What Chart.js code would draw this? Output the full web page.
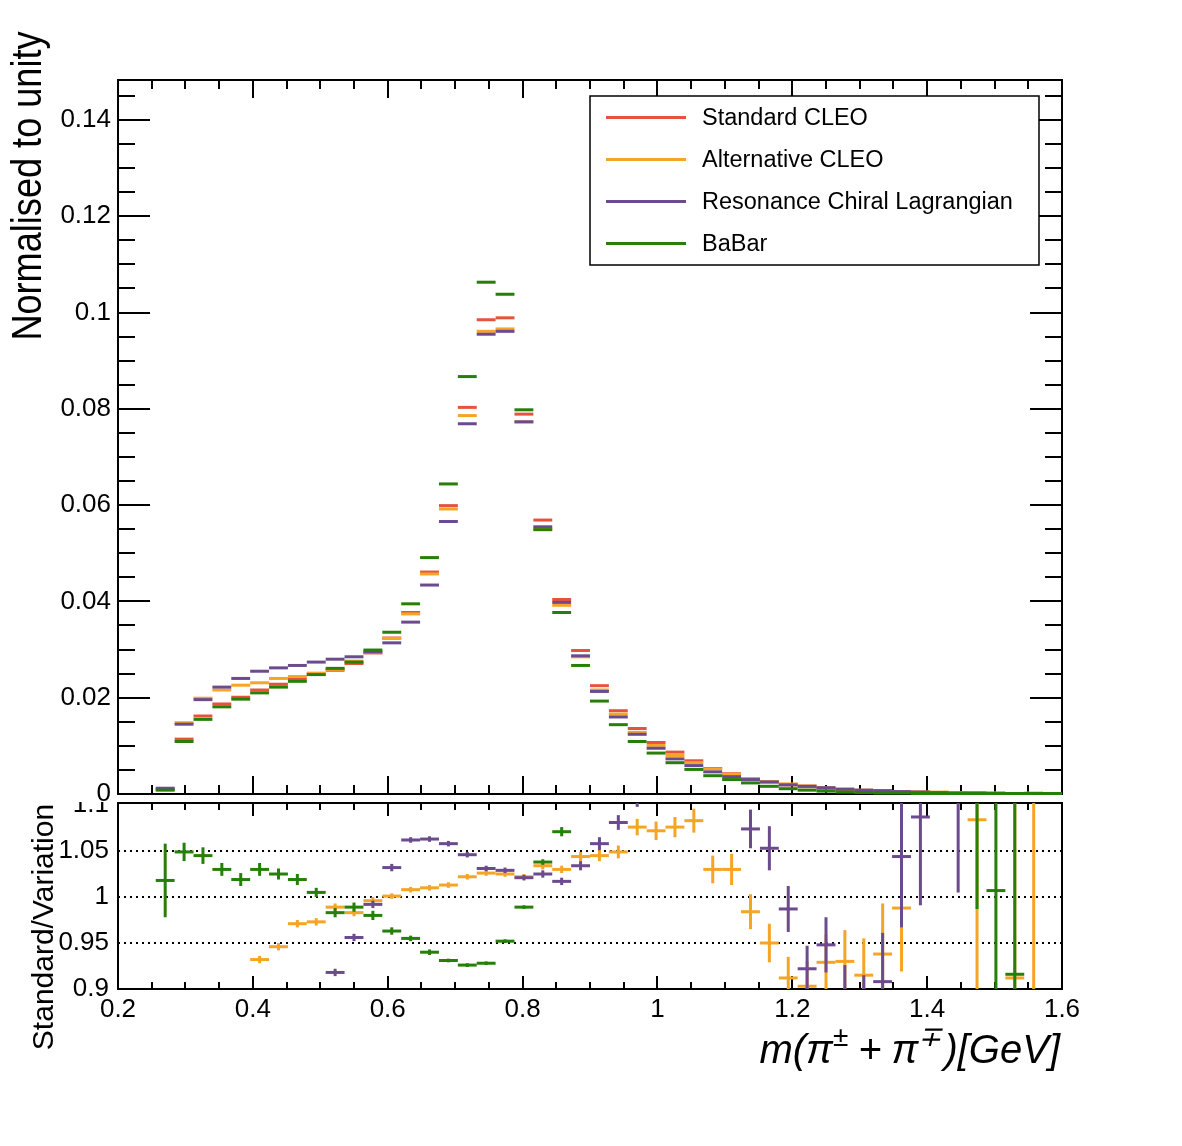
<!DOCTYPE html>
<html>
<head>
<meta charset="utf-8">
<script src="https://cdn.jsdelivr.net/npm/chart.js@4.4.1/dist/chart.umd.min.js"></script>
<style>
  html, body { margin: 0; padding: 0; background: #fff; }
  #wrap { position: relative; width: 1182px; height: 1146px; overflow: hidden; background: #fff; }
  canvas { position: absolute; left: 0; }
  #mainCanvas { top: 0; }
  #ratioCanvas { top: 802px; }
</style>
</head>
<body>
<div id="wrap">
  <canvas id="mainCanvas" width="1182" height="802"></canvas>
  <canvas id="ratioCanvas" width="1182" height="344"></canvas>
</div>
<script>
// m(pi pi) bin centres, bins of 0.028 GeV from 0.2 to 1.6
const massBins = [
  0.214, 0.242, 0.270, 0.298, 0.326, 0.354, 0.382, 0.410, 0.438, 0.466,
  0.494, 0.522, 0.550, 0.578, 0.606, 0.634, 0.662, 0.690, 0.718, 0.746,
  0.774, 0.802, 0.830, 0.858, 0.886, 0.914, 0.942, 0.970, 0.998, 1.026,
  1.054, 1.082, 1.110, 1.138, 1.166, 1.194, 1.222, 1.250, 1.278, 1.306,
  1.334, 1.362, 1.390, 1.418, 1.446, 1.474, 1.502, 1.530, 1.558, 1.586
];
const binWidth = 0.028;

const seriesNames = ['Standard CLEO', 'Alternative CLEO', 'Resonance Chiral Lagrangian', 'BaBar'];
const seriesColors = ['#e6533c', '#f5a526', '#6b4b8d', '#267f08'];

// normalised distributions (top pad)
const standardCleo = [
  null, null, 0.0010, 0.0114, 0.0162, 0.0187, 0.0201, 0.0216, 0.0228, 0.0239,
  0.0249, 0.0257, 0.0271, 0.0293, 0.0324, 0.0377, 0.0461, 0.0599, 0.0803, 0.0985,
  0.0989, 0.0789, 0.0569, 0.0404, 0.0298, 0.0225, 0.0173, 0.0136, 0.0107, 0.0087,
  0.0069, 0.0053, 0.0042, 0.0032, 0.0025, 0.0019, 0.0015, 0.0012, 0.0009, 0.0007,
  0.0006, 0.0005, 0.0004, 0.0003, 0.0003, 0.0002, 0.0002, 0.0001, 0.0001, 0.0001
];
const alternativeCleo = [
  null, null, 0.0010, 0.0148, 0.0199, 0.0216, 0.0226, 0.0231, 0.0240, 0.0244,
  0.0251, 0.0259, 0.0276, 0.0294, 0.0323, 0.0374, 0.0457, 0.0592, 0.0786, 0.0961,
  0.0966, 0.0773, 0.0551, 0.0392, 0.0285, 0.0216, 0.0166, 0.0128, 0.0101, 0.0080,
  0.0065, 0.0052, 0.0041, 0.0032, 0.0026, 0.0021, 0.0017, 0.0013, 0.0010, 0.0008,
  0.0006, 0.0005, 0.0004, 0.0004, 0.0003, 0.0002, 0.0002, 0.0001, 0.0002, 0.0001
];
const resonanceChiral = [
  null, null, 0.0012, 0.0145, 0.0196, 0.0222, 0.0240, 0.0255, 0.0262, 0.0267,
  0.0274, 0.0280, 0.0285, 0.0295, 0.0314, 0.0357, 0.0434, 0.0566, 0.0769, 0.0955,
  0.0961, 0.0773, 0.0555, 0.0398, 0.0287, 0.0213, 0.0160, 0.0124, 0.0095, 0.0073,
  0.0059, 0.0046, 0.0036, 0.0030, 0.0025, 0.0019, 0.0016, 0.0013, 0.0010, 0.0008,
  0.0007, 0.0005, 0.0004, 0.0003, 0.0002, 0.0002, 0.0001, 0.0001, 0.0001, 0.0001
];
const babar = [
  null, null, 0.0008, 0.0109, 0.0155, 0.0181, 0.0197, 0.0210, 0.0222, 0.0234,
  0.0248, 0.0261, 0.0274, 0.0299, 0.0336, 0.0395, 0.0491, 0.0644, 0.0867, 0.1063,
  0.1038, 0.0798, 0.0549, 0.0377, 0.0267, 0.0193, 0.0144, 0.0109, 0.0085, 0.0065,
  0.0051, 0.0038, 0.0030, 0.0023, 0.0016, 0.0011, 0.0008, 0.0006, 0.0004, 0.0003,
  0.0002, 0.0002, 0.0001, 0.0001, 0.0001, 0.0001, 0.0001, 0.0001, 0.0001, 0.0001
];

// Standard / variation (bottom pad), null = outside the plotted range
const ratioAlternative = [
  null, null, null, null, null, null, null, 0.932, 0.946, 0.971,
  0.973, 0.989, 0.983, 0.996, 1.001, 1.008, 1.010, 1.013, 1.022, 1.026,
  1.025, 1.022, 1.034, 1.030, 1.044, 1.045, 1.049, 1.076, 1.072, 1.076,
  1.083, 1.030, 1.030, 0.984, 0.950, 0.912, 0.903, 0.929, 0.930, 0.915,
  0.938, 0.988, null, null, null, 1.084, null, 0.912, 1.350, null
];
const ratioAlternativeErr = [
  0, 0, 0, 0, 0, 0, 0, 0.004, 0.004, 0.004,
  0.004, 0.004, 0.004, 0.004, 0.003, 0.003, 0.003, 0.003, 0.003, 0.003,
  0.003, 0.003, 0.004, 0.004, 0.005, 0.006, 0.007, 0.009, 0.010, 0.011,
  0.013, 0.015, 0.017, 0.019, 0.021, 0.023, 0.027, 0.030, 0.034, 0.040,
  0.055, 0.069, 0, 0, 0, 0.300, 0, 0.300, 0.600, 0
];
const ratioResonance = [
  null, null, null, null, null, null, null, null, null, null,
  null, 0.918, 0.956, 0.992, 1.032, 1.062, 1.063, 1.058, 1.046, 1.031,
  1.029, 1.021, 1.025, 1.017, 1.034, 1.058, 1.081, 1.108, null, null,
  null, null, null, 1.074, 1.053, 0.987, 0.922, 0.948, 0.880, 0.870,
  0.908, 1.044, 1.087, null, 1.220, null, null, null, null, null
];
const ratioResonanceErr = [
  0, 0, 0, 0, 0, 0, 0, 0, 0, 0,
  0, 0.004, 0.004, 0.004, 0.004, 0.003, 0.003, 0.003, 0.003, 0.003,
  0.003, 0.003, 0.004, 0.004, 0.005, 0.007, 0.008, 0.010, 0, 0,
  0, 0, 0, 0.021, 0.024, 0.025, 0.025, 0.030, 0.046, 0.045,
  0.053, 0.077, 0.096, 0, 0.215, 0, 0, 0, 0, 0
];
const ratioBabar = [
  null, null, 1.018, 1.049, 1.045, 1.030, 1.019, 1.030, 1.025, 1.019,
  1.005, 0.983, 0.989, 0.980, 0.963, 0.955, 0.940, 0.931, 0.926, 0.928,
  0.952, 0.989, 1.038, 1.071, null, null, null, null, null, null,
  null, null, null, null, null, null, null, null, null, null,
  null, null, null, null, null, 1.250, 1.007, 0.916, null, null
];
const ratioBabarErr = [
  0, 0, 0.040, 0.010, 0.009, 0.007, 0.007, 0.007, 0.006, 0.006,
  0.005, 0.005, 0.005, 0.005, 0.004, 0.003, 0.003, 0.002, 0.002, 0.002,
  0.002, 0.002, 0.003, 0.005, 0, 0, 0, 0, 0, 0,
  0, 0, 0, 0, 0, 0, 0, 0, 0, 0,
  0, 0, 0, 0, 0, 0.263, 0.500, 0.500, 0, 0
];

// ticks
const topTickValues = [0, 0.02, 0.04, 0.06, 0.08, 0.10, 0.12, 0.14];
const topTickLabels = ['0', '0.02', '0.04', '0.06', '0.08', '0.1', '0.12', '0.14'];
const ratioTickValues = [0.9, 0.95, 1.0, 1.05, 1.1];
const ratioTickLabels = ['0.9', '0.95', '1', '1.05', '1.1'];
const massTickValues = [0.2, 0.4, 0.6, 0.8, 1.0, 1.2, 1.4, 1.6];
const massTickLabels = ['0.2', '0.4', '0.6', '0.8', '1', '1.2', '1.4', '1.6'];

Chart.defaults.font.family = '"Liberation Sans", Arial, Helvetica, sans-serif';
Chart.defaults.color = '#000';

const toPoints = (vals, errs) => massBins
  .map((x, i) => ({ x: x, y: vals[i], e: errs ? errs[i] : 0 }))
  .filter(p => p.y !== null);

const steps = (lo, hi, step) => {
  const out = [];
  for (let v = lo; v <= hi + 1e-9; v += step) out.push(+v.toFixed(6));
  return out;
};

// horizontal bin segments + vertical error bars, like ROOT "E" drawing
const binMarks = {
  id: 'binMarks',
  afterDatasetsDraw(chart, args, opts) {
    const { ctx, chartArea: a, scales: { x, y } } = chart;
    ctx.save();
    if (opts.clip) {
      ctx.beginPath();
      ctx.rect(a.left, a.top, a.right - a.left, a.bottom - a.top);
      ctx.clip();
    }
    ctx.lineWidth = 3;
    ctx.lineCap = 'butt';
    chart.data.datasets.forEach(ds => {
      ctx.strokeStyle = ds.borderColor;
      ds.data.forEach(p => {
        const x0 = x.getPixelForValue(p.x - binWidth / 2);
        const x1 = x.getPixelForValue(p.x + binWidth / 2);
        const py = y.getPixelForValue(p.y);
        ctx.beginPath();
        ctx.moveTo(x0, py);
        ctx.lineTo(x1, py);
        ctx.stroke();
        if (p.e) {
          const xc = x.getPixelForValue(p.x);
          ctx.beginPath();
          ctx.moveTo(xc, y.getPixelForValue(p.y - p.e));
          ctx.lineTo(xc, y.getPixelForValue(p.y + p.e));
          ctx.stroke();
        }
      });
    });
    ctx.restore();
  }
};

// frame with inward ticks on all four sides
const rootFrame = {
  id: 'rootFrame',
  beforeDatasetsDraw(chart, args, o) {
    const { ctx, chartArea: a, scales: { x, y } } = chart;
    ctx.save();
    ctx.strokeStyle = '#000';
    ctx.lineWidth = 2;
    const seg = (x0, y0, x1, y1) => { ctx.beginPath(); ctx.moveTo(x0, y0); ctx.lineTo(x1, y1); ctx.stroke(); };

    ctx.setLineDash([2, 4]);
    (o.dotted || []).forEach(v => {
      const py = Math.round(y.getPixelForValue(v));
      seg(a.left, py, a.right, py);
    });
    ctx.setLineDash([]);

    (o.yTicks || []).forEach(t => t.values.forEach(v => {
      const py = Math.round(y.getPixelForValue(v));
      seg(a.left, py, a.left + t.len, py);
      seg(a.right, py, a.right - t.len, py);
    }));
    (o.xTicks || []).forEach(t => t.values.forEach(v => {
      const px = Math.round(x.getPixelForValue(v));
      seg(px, a.bottom, px, a.bottom - t.len);
      seg(px, a.top, px, a.top + t.len);
    }));
    ctx.strokeRect(a.left, a.top, a.right - a.left, a.bottom - a.top);
    ctx.restore();
  },
  afterDraw(chart, args, o) {
    const { ctx } = chart;
    ctx.save();
    ctx.fillStyle = '#000';
    (o.titles || []).forEach(t => {
      ctx.save();
      ctx.translate(t.x, t.y);
      ctx.rotate(t.rot || 0);
      if (t.squeeze) ctx.scale(t.squeeze, 1);
      ctx.font = t.font;
      ctx.textAlign = t.align || 'center';
      ctx.textBaseline = 'alphabetic';
      if (!t.parts) {
        ctx.fillText(t.text, 0, 0);
      } else {
        // text with superscripts, right aligned at 0
        const size = t.size;
        const fontFor = p => (p.sup ? `italic ${Math.round(size * 0.7)}px` : `italic ${size}px`) + ' "Liberation Sans", Arial, sans-serif';
        let total = 0;
        t.parts.forEach(p => { ctx.font = fontFor(p); total += ctx.measureText(p.t).width + (p.gap || 0); });
        let cx = -total;
        ctx.textAlign = 'left';
        t.parts.forEach(p => {
          ctx.font = fontFor(p);
          ctx.fillText(p.t, cx, p.sup ? -size * 0.42 : 0);
          cx += ctx.measureText(p.t).width + (p.gap || 0);
        });
      }
      ctx.restore();
    });
    ctx.restore();
  }
};

const rootLegend = {
  id: 'rootLegend',
  afterDraw(chart, args, o) {
    if (!o.show) return;
    const { ctx } = chart;
    ctx.save();
    ctx.fillStyle = '#fff';
    ctx.fillRect(o.left, o.top, o.width, o.height);
    ctx.strokeStyle = '#000';
    ctx.lineWidth = 1.5;
    ctx.strokeRect(o.left, o.top, o.width, o.height);
    ctx.font = '23.5px "Liberation Sans", Arial, sans-serif';
    ctx.textBaseline = 'middle';
    ctx.textAlign = 'left';
    chart.data.datasets.forEach((ds, i) => {
      const yy = o.top + o.firstRow + i * o.rowStep;
      ctx.strokeStyle = ds.borderColor;
      ctx.lineWidth = 3;
      ctx.beginPath();
      ctx.moveTo(o.left + 16, yy);
      ctx.lineTo(o.left + 96, yy);
      ctx.stroke();
      ctx.fillStyle = '#000';
      ctx.fillText(ds.label, o.left + 112, yy + 1);
    });
    ctx.restore();
  }
};

const noGrid = { display: false, drawTicks: false, tickLength: 0 };

function makeDataset(i, vals, errs) {
  return {
    label: seriesNames[i],
    data: toPoints(vals, errs),
    borderColor: seriesColors[i],
    backgroundColor: seriesColors[i],
    pointRadius: 0,
    showLine: false
  };
}

new Chart(document.getElementById('mainCanvas'), {
  type: 'scatter',
  data: {
    datasets: [
      makeDataset(0, standardCleo),
      makeDataset(1, alternativeCleo),
      makeDataset(2, resonanceChiral),
      makeDataset(3, babar)
    ]
  },
  plugins: [rootFrame, binMarks, rootLegend],
  options: {
    responsive: false,
    animation: false,
    events: [],
    layout: { padding: { top: 80, right: 120, left: 0, bottom: 0 } },
    plugins: {
      legend: { display: false },
      tooltip: { enabled: false },
      binMarks: { clip: false },
      rootLegend: { show: true, left: 590, top: 96, width: 449, height: 169, firstRow: 21.5, rowStep: 42 },
      rootFrame: {
        yTicks: [
          { values: steps(0, 0.145, 0.005), len: 17 },
          { values: topTickValues, len: 32 }
        ],
        xTicks: [
          { values: steps(0.2, 1.6, 0.05), len: 9 },
          { values: massTickValues, len: 18 }
        ],
        titles: [
          { text: 'Normalised to unity', x: 41, y: 186, rot: -Math.PI / 2, squeeze: 0.86, font: '42px "Liberation Sans", Arial, sans-serif' }
        ]
      }
    },
    scales: {
      x: {
        type: 'linear', min: 0.2, max: 1.6,
        ticks: { display: false },
        grid: noGrid,
        border: { display: false },
        afterFit(s) { s.height = 8; s.paddingLeft = 0; s.paddingRight = 0; }
      },
      y: {
        type: 'linear', min: 0, max: 0.1483,
        afterBuildTicks(s) { s.ticks = topTickValues.map(v => ({ value: v })); },
        ticks: {
          autoSkip: false,
          padding: 7,
          font: { size: 26 },
          callback: (v, i) => topTickLabels[i]
        },
        grid: noGrid,
        border: { display: false },
        afterFit(s) { s.width = 118; s.paddingTop = 0; s.paddingBottom = 0; }
      }
    }
  }
});

new Chart(document.getElementById('ratioCanvas'), {
  type: 'scatter',
  data: {
    datasets: [
      makeDataset(1, ratioAlternative, ratioAlternativeErr),
      makeDataset(2, ratioResonance, ratioResonanceErr),
      makeDataset(3, ratioBabar, ratioBabarErr)
    ]
  },
  plugins: [rootFrame, binMarks],
  options: {
    responsive: false,
    animation: false,
    events: [],
    layout: { padding: { top: 1, right: 120, left: 0, bottom: 0 } },
    plugins: {
      legend: { display: false },
      tooltip: { enabled: false },
      binMarks: { clip: true },
      rootFrame: {
        dotted: [0.95, 1.0, 1.05],
        xTicks: [
          { values: steps(0.2, 1.6, 0.05), len: 7 },
          { values: massTickValues, len: 13 }
        ],
        titles: [
          { text: 'Standard/Variation', x: 53, y: 125, rot: -Math.PI / 2, font: '30px "Liberation Sans", Arial, sans-serif' },
          {
            x: 1060, y: 261, size: 40,
            parts: [
              { t: 'm(\u03C0' },
              { t: '\u00B1', sup: true, gap: 10 },
              { t: '+', gap: 10 },
              { t: '\u03C0' },
              { t: '\u2213', sup: true, gap: 3 },
              { t: ')[GeV]' }
            ]
          }
        ]
      }
    },
    scales: {
      x: {
        type: 'linear', min: 0.2, max: 1.6,
        afterBuildTicks(s) { s.ticks = massTickValues.map(v => ({ value: v })); },
        ticks: {
          autoSkip: false,
          maxRotation: 0,
          padding: 5,
          font: { size: 26 },
          callback: (v, i) => massTickLabels[i]
        },
        grid: noGrid,
        border: { display: false },
        afterFit(s) { s.height = 157; s.paddingLeft = 0; s.paddingRight = 0; }
      },
      y: {
        type: 'linear', min: 0.9, max: 1.1022,
        afterBuildTicks(s) { s.ticks = ratioTickValues.map(v => ({ value: v })); },
        ticks: {
          autoSkip: false,
          padding: 9,
          font: { size: 26 },
          callback: (v, i) => ratioTickLabels[i]
        },
        grid: noGrid,
        border: { display: false },
        afterFit(s) { s.width = 118; s.paddingTop = 0; s.paddingBottom = 0; }
      }
    }
  }
});
</script>
</body>
</html>
